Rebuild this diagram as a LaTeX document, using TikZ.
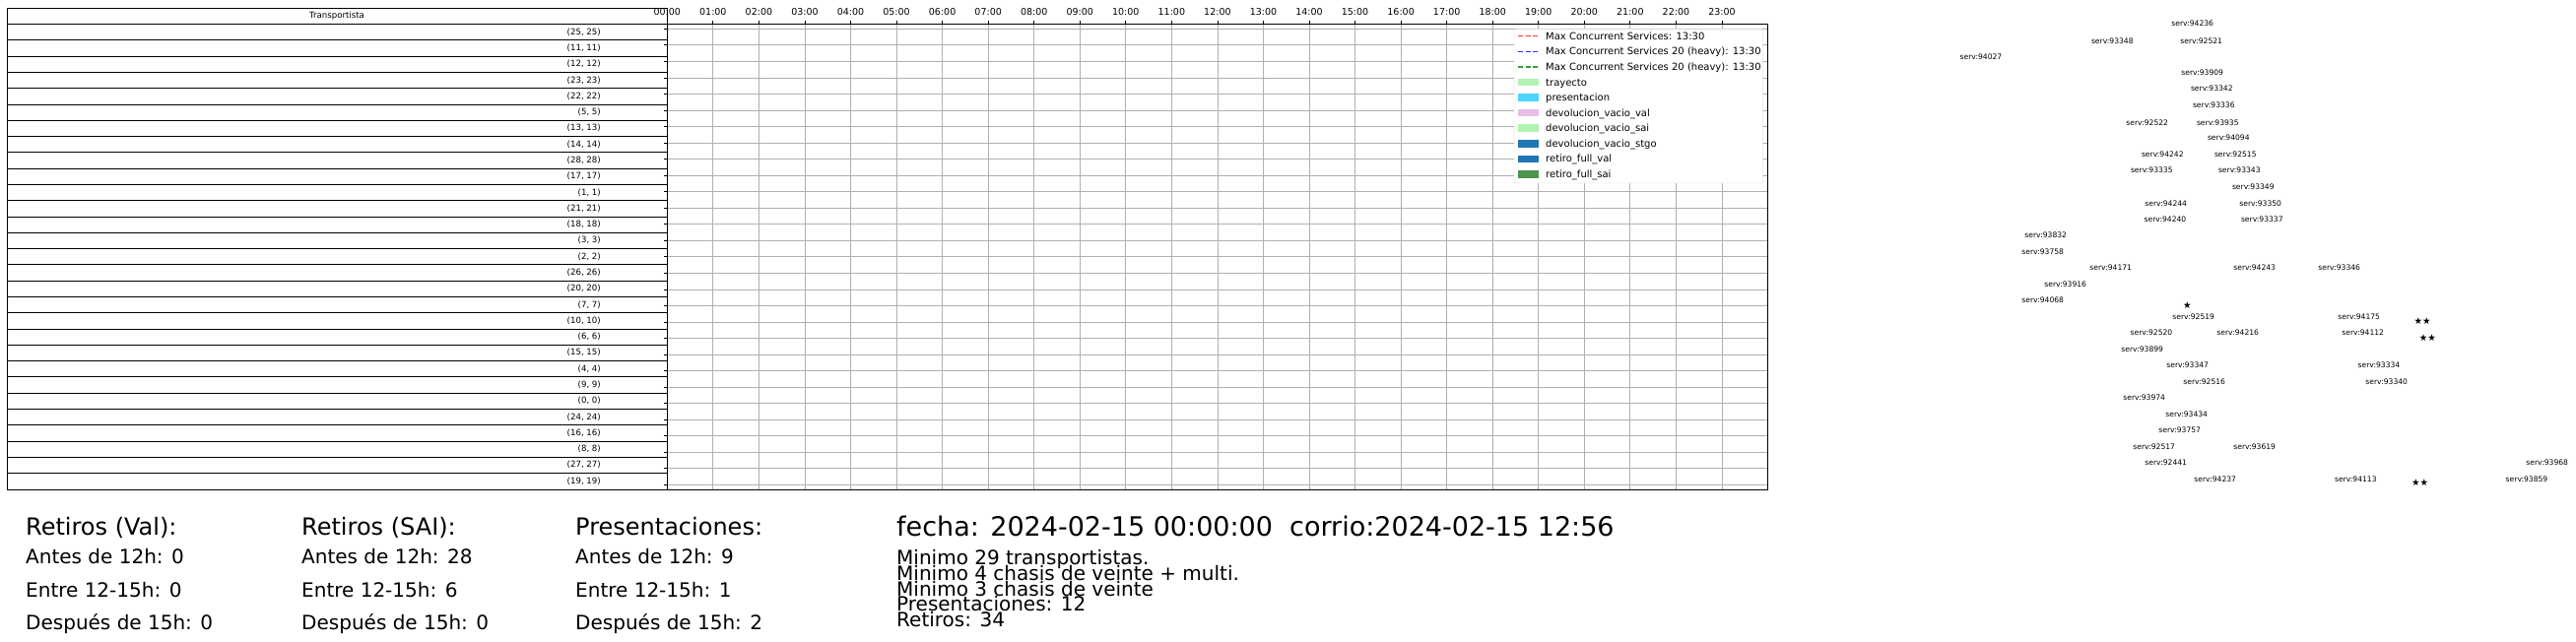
\documentclass[tikz,border=0pt]{standalone}
\usepackage{fontspec}
\setmainfont{DejaVu Sans}
\definecolor{tray}{RGB}{177,243,177}
\definecolor{pres}{RGB}{77,211,255}
\definecolor{dval}{RGB}{232,189,232}
\definecolor{tabblue}{RGB}{31,119,180}
\definecolor{rsai}{RGB}{77,147,77}
\definecolor{lred}{RGB}{255,45,45}
\definecolor{lblue}{RGB}{45,45,255}
\definecolor{lgreen}{RGB}{50,160,50}
\definecolor{grd}{RGB}{176,176,176}

\begin{document}
\begin{tikzpicture}[x=1pt,y=-1pt,
        frm/.style = {line width=1pt},
        grid line/.style = {grd,line width=.8pt},
        rowlab/.style = {font=\fontsize{8.6}{10}\selectfont,inner sep=0pt,anchor=east},
        hlab/.style = {font=\fontsize{9.5}{11}\selectfont,inner sep=0pt,anchor=base},
        leg/.style = {font=\fontsize{10}{12}\selectfont,inner sep=0pt,anchor=base west},
        serv/.style = {font=\fontsize{7.6}{9}\selectfont,inner sep=0pt},
        star/.style = {font=\fontsize{9.5}{11}\selectfont,inner sep=0pt},
        ttl/.style = {font=\fontsize{24}{28}\selectfont,inner sep=0pt,anchor=base west},
        sub/.style = {font=\fontsize{20}{24}\selectfont,inner sep=0pt,anchor=base west},
        fch/.style = {font=\fontsize{27}{32}\selectfont,inner sep=0pt,anchor=base west}
        ]
        \useasboundingbox (0,0) rectangle (2615,651);

        %Tabla
        \foreach \k in {0,...,30}
        \draw[frm] (7,8.3+16.29*\k) -- (677.3,8.3+16.29*\k);
        \draw[frm] (7,8.3) -- (7,497);
        \draw[frm] (677.3,8.3) -- (677.3,497);
        \node[rowlab,anchor=center] (hdr) at (342,16.4) {Transportista};
        \foreach \a [count=\i from 0] in {25,11,12,23,22,5,13,14,28,17,1,21,18,3,2,26,20,7,10,6,15,4,9,0,24,16,8,27,19}
        \node[rowlab] (r\a) at (610,32.45+16.29*\i) {(\a, \a)};

        %Raster
        \foreach \h in {1,...,23}
        \draw[grid line] (677.3+46.55*\h,24.3) -- (677.3+46.55*\h,497);
        \foreach \k in {0,...,28}
        \draw[grid line] (677.3,29.3+16.54*\k) -- (1794.5,29.3+16.54*\k);
        \foreach \k in {0,...,28}
        \draw[line width=.8pt] (677.3,29.3+16.54*\k) -- ++(-3.5,0);
        \foreach \h in {0,...,23}{
          \draw[line width=.8pt] (677.3+46.55*\h,24.3) -- ++(0,-3.5);
          \node[hlab] (h\h) at (677.3+46.55*\h,15) {\ifnum\h<10 0\fi\h:00};
        }
        \draw[frm] (677.3,24.3) rectangle (1794.5,497);

        %Leyenda
        \draw[gray!35,fill=white,rounded corners=2pt] (1537,29.3) rectangle (1789.5,186);
        \foreach \c/\t [count=\j from 0] in {lred/{Max Concurrent Services: 13:30},
            lblue/{Max Concurrent Services 20 (heavy): 13:30},
            lgreen/{Max Concurrent Services 20 (heavy): 13:30}}{
          \draw[\c,line width=1.5pt,dash pattern=on 5pt off 2.5pt] (1541,36.7+15.58*\j) -- ++(21,0);
          \node[leg] (l\j) at (1569,40.3+15.58*\j) {\t};
        }
        \foreach \c/\t [count=\j from 3] in {tray/trayecto,pres/presentacion,
            dval/devolucion\_vacio\_val,tray/devolucion\_vacio\_sai,
            tabblue/devolucion\_vacio\_stgo,tabblue/retiro\_full\_val,rsai/retiro\_full\_sai}{
          \fill[\c] (1541,32.9+15.58*\j) rectangle ++(21,7.6);
          \node[leg] (l\j) at (1569,40.3+15.58*\j) {\t};
        }

        %Servicios
        \foreach \t/\x/\y [count=\i] in {94236/2225.7/24, 93348/2144.3/41.7, 92521/2234.7/41.7,
            94027/2011/57.3, 93909/2235.7/73.3, 93342/2245.3/89.7, 93336/2247.3/107,
            92522/2179.7/124.3, 93935/2251.3/124.3, 94094/2262.3/139.3,
            94242/2195.3/156.3, 92515/2269.3/156.3, 93335/2184.3/173, 93343/2273.3/173,
            93349/2287.3/189.7, 94244/2198.7/206.3, 93350/2294.7/206.3,
            94240/2198/223, 93337/2296.3/223, 93832/2076.7/239, 93758/2073.7/255.7,
            94171/2142.7/272, 94243/2288.7/272, 93346/2374.7/272, 93916/2096.7/289,
            94068/2073.7/304.7, 92519/2226.7/321.7, 94175/2394.7/321.3,
            92520/2184/338, 94216/2271.7/338, 94112/2398.7/338, 93899/2174.7/354.7,
            93347/2220.7/370.7, 93334/2415/370.3, 92516/2237.7/387.3, 93340/2422.7/387.3,
            93974/2176.7/403.7, 93434/2219.7/420.7, 93757/2212.7/436.7,
            92517/2186.7/453.3, 93619/2288.7/453.3, 92441/2198.7/469.7,
            93968/2585.7/470, 94237/2248.7/486.7, 94113/2391.3/487, 93859/2565/487}
        \node[serv] (s\i) at (\x,\y) {serv:\t};
        \node[star] (st1) at (2220.3,310) {★};
        \node[star] (st2) at (2459,326) {★★};
        \node[star] (st3) at (2464.3,343.3) {★★};
        \node[star] (st4) at (2456.7,490) {★★};

        %Resumen
        \foreach \xx/\tt/\a/\b/\c [count=\i] in {26/{Retiros (Val):}/0/0/0,
            306/{Retiros (SAI):}/28/6/0, 584/{Presentaciones:}/9/1/2}{
          \node[ttl] (t\i) at (\xx,543.3) {\tt};
          \node[sub] (a\i) at (\xx,572.7) {Antes de 12h: \a};
          \node[sub] (b\i) at (\xx,606) {Entre 12-15h: \b};
          \node[sub] (c\i) at (\xx,639.3) {Después de 15h: \c};
        }
        \node[fch] (fecha) at (910,544) {fecha: 2024-02-15 00:00:00\ \ corrio:2024-02-15 12:56};
        \foreach \t [count=\i from 0] in {Minimo 29 transportistas.,
            Minimo 4 chasis de veinte + multi.,Minimo 3 chasis de veinte,
            Presentaciones: 12,Retiros: 34}
        \node[sub] (m\i) at (910,573.3+15.85*\i) {\t};

    \end{tikzpicture}
\end{document}
